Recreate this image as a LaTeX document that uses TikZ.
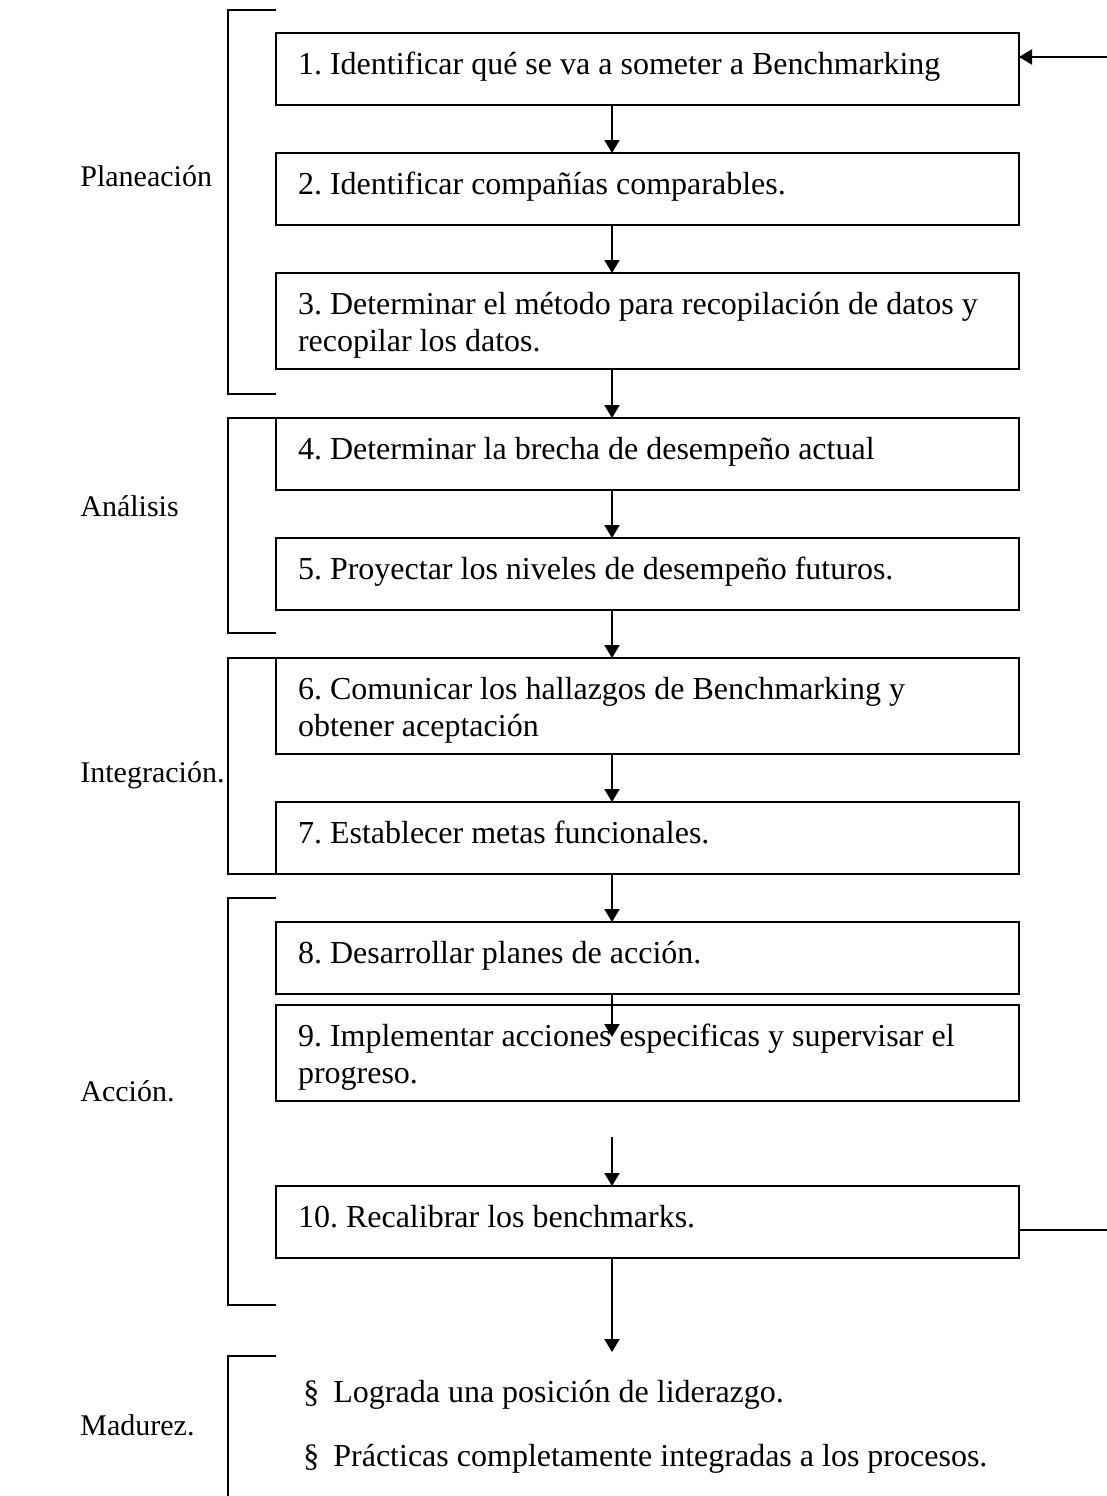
\documentclass[tikz,border=0pt]{standalone}
\usepackage{fontspec}
\setmainfont{Liberation Serif}
\usetikzlibrary{arrows.meta,positioning,calc}

\tikzset{
  paso/.style={draw, line width=1pt, anchor=north west, inner xsep=11pt, inner ysep=0pt,
    outer sep=0pt, text width=349.5pt, text height=20.5pt, text depth=15.5pt,
    execute at begin node={\spaceskip=0pt\xspaceskip=0pt\relax}},
  pasodoble/.style={paso, text depth=27.5pt},
  fase/.style={anchor=base west, inner sep=0pt, font=\fontsize{15}{17}\selectfont},
  punto/.style={anchor=base west, inner sep=0pt},
  llave/.style={line width=1pt},
  flecha/.style={line width=1pt, -{Triangle[length=6.5pt,width=7.5pt]}}
}

\begin{document}
\begin{tikzpicture}[x=0.5pt, y=-0.5pt, font=\fontsize{16}{18.5}\selectfont\frenchspacing]
\useasboundingbox (0,0) rectangle (1107,1496);

% pasos del proceso
\node[paso] (b1) at (276,33) {1. Identificar qué se va a someter a Benchmarking};
\node[paso] (b2) at (276,153) {2. Identificar compañías comparables.};
\node[pasodoble] (b3) at (276,273) {3. Determinar el método para recopilación de datos y\\recopilar los datos.};
\node[paso] (b4) at (276,418) {4. Determinar la brecha de desempeño actual};
\node[paso] (b5) at (276,538) {5. Proyectar los niveles de desempeño futuros.};
\node[pasodoble] (b6) at (276,658) {6. Comunicar los hallazgos de Benchmarking y\\obtener aceptación};
\node[paso] (b7) at (276,802) {7. Establecer metas funcionales.};
\node[paso] (b8) at (276,922) {8. Desarrollar planes de acción.};
\node[pasodoble] (b9) at (276,1005) {9. Implementar acciones especificas y supervisar el\\progreso.};
\node[paso] (b10) at (276,1186) {10. Recalibrar los benchmarks.};

% fases
\node[fase] (planeacion) at (80,186) {Planeación};
\node[fase] (analisis) at (80,516) {Análisis};
\node[fase] (integracion) at (80,782) {Integración.};
\node[fase] (accion) at (80,1101) {Acción.};
\node[fase] (madurez) at (80,1435) {Madurez.};

% llaves
\draw[llave] (276,10) -| (228,394) -- (276,394);
\draw[llave] (b4.north west) -| (228,633) -- (276,633);
\draw[llave] (b6.north west) -| (228,874) -- (b7.south west);
\draw[llave] (276,898) -| (228,1305) -- (276,1305);
\draw[llave] (276,1356) -| (228,1500);

% madurez
\node[punto] (lider) at (303,1402) {\makebox[15pt][l]{§}Lograda una posición de liderazgo.};
\node[punto] (practicas) at (303,1466) {\makebox[15pt][l]{§}Prácticas completamente integradas a los procesos.};

% conectores
\coordinate (eje) at (612,0);
\foreach \a/\b in {b1/b2,b2/b3,b3/b4,b4/b5,b5/b6,b6/b7,b7/b8}
  \draw[flecha] (\a.south -| eje) -- (\b.north -| eje);
\coordinate (punta9) at (612,1037);
\draw[flecha] (b8.south -| eje) -- (punta9);
\coordinate (inicio10) at (612,1137);
\draw[flecha] (inicio10) -- (b10.north -| eje);
\coordinate (fin10) at (612,1352);
\draw[flecha] (b10.south -| eje) -- (fin10);

% retroalimentacion
\coordinate (retorno1) at (1107,57);
\draw[flecha] (retorno1) -- (retorno1 -| b1.east);
\coordinate (retorno10) at (1107,1230);
\draw[line width=1pt] (b10.east |- retorno10) -- (retorno10);
\end{tikzpicture}
\end{document}
